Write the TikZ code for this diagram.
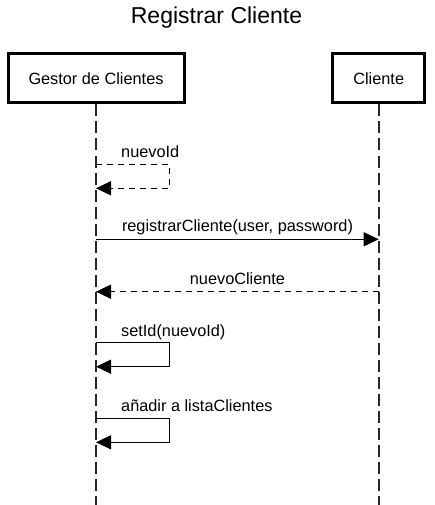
\documentclass[tikz,border=0pt]{standalone}
\usepackage{fontspec}
\setmainfont{Liberation Sans}
\usetikzlibrary{positioning, calc, arrows.meta}

\begin{document}
\begin{tikzpicture}
    [x=1pt, y=-1pt,
    actornode/.style={rectangle, draw=black, line width=3pt, minimum height=49pt, inner sep=0pt, font=\fontsize{16.3}{19}\selectfont},
    lifeline/.style={draw=black!85, line width=1.8pt, dash pattern=on 12pt off 5pt},
    callmsg/.style={draw=black, line width=1.3pt, -{Triangle[length=15pt, width=14pt]}},
    returnmsg/.style={callmsg, dash pattern=on 6pt off 5pt},
    msglabel/.style={inner sep=0pt, font=\fontsize{16.3}{19}\selectfont},]

    \useasboundingbox (0,0) rectangle (434,505);

    %Nodes
    \node(title) at (216.5,24) [anchor=base, inner sep=0pt, font=\fontsize{23}{27}\selectfont]{Registrar Cliente};
    \node[actornode, minimum width=176pt](GC) at (96,78.5){Gestor de Clientes};
    \node[actornode, minimum width=91.5pt](CL) at (378.7,78.5){Cliente};

    \coordinate (GCend) at (96,505);
    \coordinate (CLend) at (378.7,505);

    \coordinate (idA) at (96,164.3);
    \coordinate (idB) at (96,188.3);
    \coordinate (regA) at (96,239.3);
    \coordinate (regB) at (378.7,239.3);
    \coordinate (nuevoA) at (378.7,291.7);
    \coordinate (nuevoB) at (96,291.7);
    \coordinate (setA) at (96,342.7);
    \coordinate (setB) at (96,366.7);
    \coordinate (addA) at (96,418.3);
    \coordinate (addB) at (96,442.3);

    %Lines
    \draw[lifeline](GC.south)--(GCend);
    \draw[lifeline](CL.south)--(CLend);

    \draw[returnmsg](idA)--++(73.3,0)|-(idB);
    \draw[callmsg](regA)--(regB);
    \draw[returnmsg](nuevoA)--(nuevoB);
    \draw[callmsg](setA)--++(73.3,0)|-(setB);
    \draw[callmsg](addA)--++(73.3,0)|-(addB);

    %Labels
    \node[msglabel, anchor=base west](idlabel) at (121,157.3){nuevoId};
    \node[msglabel, anchor=base](reglabel) at (237.5,231.7){registrarCliente(user, password)};
    \node[msglabel, anchor=base](nuevolabel) at (237.5,284.3){nuevoCliente};
    \node[msglabel, anchor=base west](setlabel) at (121,336.7){setId(nuevoId)};
    \node[msglabel, anchor=base west](addlabel) at (121,411){añadir a listaClientes};

\end{tikzpicture}
\end{document}
